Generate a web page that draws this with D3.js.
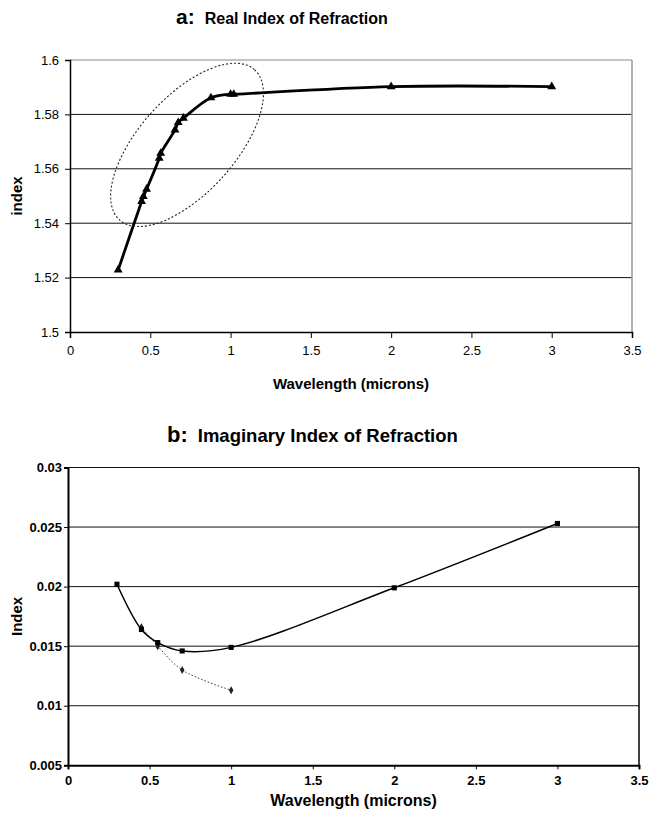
<!DOCTYPE html>
<html><head><meta charset="utf-8">
<script src="https://cdn.jsdelivr.net/npm/d3@7"></script>
<style>
body{margin:0;background:#fff;}
svg text{font-family:"Liberation Sans Narrow","Arial Narrow","Liberation Sans",Arial,sans-serif;fill:#000;}
</style></head><body>
<svg id="chart" width="650" height="817"></svg>
<script>
// Real part of the refractive index against wavelength (microns)
const realWavelength = [0.30, 0.446, 0.457, 0.477, 0.556, 0.565, 0.654, 0.674, 0.706, 0.878, 1.00, 1.02, 2.00, 3.00];
const realIndex      = [1.5228, 1.5480, 1.5498, 1.5525, 1.5639, 1.5657, 1.5743, 1.5770, 1.5786, 1.5861, 1.5874, 1.5874, 1.5902, 1.5902];

// Imaginary part: main series and the alternative short series
const imagWavelength = [0.30, 0.45, 0.55, 0.70, 1.00, 2.00, 3.00];
const imagIndex      = [0.0202, 0.0164, 0.0153, 0.0146, 0.0149, 0.0199, 0.0253];
const altWavelength  = [0.45, 0.55, 0.70, 1.00];
const altIndex       = [0.0166, 0.0150, 0.0130, 0.0113];

// Tick values
const xTicks    = [0, 0.5, 1, 1.5, 2, 2.5, 3, 3.5];
const realTicks = [1.5, 1.52, 1.54, 1.56, 1.58, 1.6];
const imagTicks = [0.005, 0.01, 0.015, 0.02, 0.025, 0.03];

const svg = d3.select("#chart");
const fmt = d => String(+d.toFixed(3));

/* ---------- panel a ---------- */
const A = {left: 70, right: 632, top: 60, bottom: 332};
const xa = d3.scaleLinear().domain([0, 3.5]).range([A.left, A.right]);
const ya = d3.scaleLinear().domain([1.5, 1.6]).range([A.bottom, A.top]);
const ga = svg.append("g");

// horizontal gridlines
ga.selectAll("line.grid").data(realTicks.slice(1)).join("line")
  .attr("x1", A.left).attr("x2", A.right)
  .attr("y1", d => ya(d)).attr("y2", d => ya(d))
  .attr("stroke", d => d === 1.6 ? "#888" : "#111").attr("stroke-width", 1);
// right frame edge
ga.append("line").attr("x1", A.right).attr("x2", A.right).attr("y1", A.top).attr("y2", A.bottom)
  .attr("stroke", "#999").attr("stroke-width", 1.5);

// axes
const axA_y = d3.axisLeft(ya).tickValues(realTicks).tickFormat(fmt).tickSize(5).tickPadding(6);
const axA_x = d3.axisBottom(xa).tickValues(xTicks).tickFormat(fmt).tickSize(6).tickPadding(8);
const gya = ga.append("g").attr("transform", `translate(${A.left},0)`).call(axA_y);
const gxa = ga.append("g").attr("transform", `translate(0,${A.bottom})`).call(axA_x);
[gya, gxa].forEach(g => {
  g.select(".domain").attr("stroke", "#000").attr("stroke-width", 1.5);
  g.selectAll(".tick line").attr("stroke", "#000");
  g.selectAll("text").attr("font-size", 13).attr("font-family", null);
});

// smoothed line + triangle markers
const realPts = realWavelength.map((w, i) => [w, realIndex[i]]);
ga.append("path").datum(realPts)
  .attr("d", d3.line().x(d => xa(d[0])).y(d => ya(d[1])).curve(d3.curveCatmullRom.alpha(0.5)))
  .attr("fill", "none").attr("stroke", "#000").attr("stroke-width", 2.8).attr("stroke-linejoin", "round");
ga.selectAll("path.tri").data(realPts).join("path")
  .attr("transform", d => `translate(${xa(d[0])},${ya(d[1])})`)
  .attr("d", d3.symbol(d3.symbolTriangle, 34)).attr("fill", "#000");

// dotted ellipse around the visible-range points
const ell = {cx: 0.729, cy: 1.5688};
ga.append("ellipse")
  .attr("transform", `translate(${xa(ell.cx)},${ya(ell.cy)}) rotate(-48)`)
  .attr("rx", 101).attr("ry", 48)
  .attr("fill", "none").attr("stroke", "#222").attr("stroke-width", 1.1).attr("stroke-dasharray", "2,2");

// titles
const ta = ga.append("text").attr("x", 176).attr("y", 24).attr("font-weight", "bold");
ta.append("tspan").attr("font-size", 21).text("a:");
ta.append("tspan").attr("font-size", 16).attr("dx", 10).text("Real Index of Refraction");
ga.append("text").attr("x", (A.left + A.right) / 2).attr("y", 389).attr("text-anchor", "middle")
  .attr("font-weight", "bold").attr("font-size", 15).text("Wavelength (microns)");
ga.append("text").attr("transform", `translate(22,${(A.top + A.bottom) / 2}) rotate(-90)`)
  .attr("text-anchor", "middle").attr("font-weight", "bold").attr("font-size", 15).text("index");

/* ---------- panel b ---------- */
const B = {left: 68, right: 639, top: 467.5, bottom: 765.3};
const xb = d3.scaleLinear().domain([0, 3.5]).range([B.left, B.right]);
const yb = d3.scaleLinear().domain([0.005, 0.03]).range([B.bottom, B.top]);
const gb = svg.append("g");

gb.selectAll("line.grid").data(imagTicks.slice(1)).join("line")
  .attr("x1", B.left).attr("x2", B.right)
  .attr("y1", d => yb(d)).attr("y2", d => yb(d))
  .attr("stroke", "#111").attr("stroke-width", 1);
gb.append("line").attr("x1", B.right).attr("x2", B.right).attr("y1", B.top).attr("y2", B.bottom)
  .attr("stroke", "#000").attr("stroke-width", 1.5);

const axB_y = d3.axisLeft(yb).tickValues(imagTicks).tickFormat(fmt).tickSize(4).tickPadding(2);
const axB_x = d3.axisBottom(xb).tickValues(xTicks).tickFormat(fmt).tickSize(4).tickPadding(6);
const gyb = gb.append("g").attr("transform", `translate(${B.left},0)`).call(axB_y);
const gxb = gb.append("g").attr("transform", `translate(0,${B.bottom})`).call(axB_x);
[gyb, gxb].forEach(g => {
  g.select(".domain").attr("stroke", "#000").attr("stroke-width", 2);
  g.selectAll(".tick line").attr("stroke", "#000");
  g.selectAll("text").attr("font-size", 13).attr("font-weight", "bold").attr("font-family", null);
});

const curve = d3.line().x(d => xb(d[0])).y(d => yb(d[1])).curve(d3.curveCatmullRom.alpha(0.5));
const altPts = altWavelength.map((w, i) => [w, altIndex[i]]);
gb.append("path").datum(altPts).attr("d", curve)
  .attr("fill", "none").attr("stroke", "#333").attr("stroke-width", 1).attr("stroke-dasharray", "1.5,2");
gb.selectAll("path.dia").data(altPts).join("path")
  .attr("transform", d => `translate(${xb(d[0])},${yb(d[1])})`)
  .attr("d", d3.symbol(d3.symbolDiamond, 18)).attr("fill", "#222");

const imagPts = imagWavelength.map((w, i) => [w, imagIndex[i]]);
gb.append("path").datum(imagPts).attr("d", curve)
  .attr("fill", "none").attr("stroke", "#000").attr("stroke-width", 1.5);
gb.selectAll("path.sq").data(imagPts).join("path")
  .attr("transform", d => `translate(${xb(d[0])},${yb(d[1])})`)
  .attr("d", d3.symbol(d3.symbolSquare, 26)).attr("fill", "#000");

const tb = gb.append("text").attr("x", 167).attr("y", 442).attr("font-weight", "bold");
tb.append("tspan").attr("font-size", 22).text("b:");
tb.append("tspan").attr("font-size", 18.5).attr("dx", 10).text("Imaginary Index of Refraction");
gb.append("text").attr("x", (B.left + B.right) / 2).attr("y", 806).attr("text-anchor", "middle")
  .attr("font-weight", "bold").attr("font-size", 16).text("Wavelength (microns)");
gb.append("text").attr("transform", `translate(22,${(B.top + B.bottom) / 2}) rotate(-90)`)
  .attr("text-anchor", "middle").attr("font-weight", "bold").attr("font-size", 15).text("Index");
</script>
</body></html>
